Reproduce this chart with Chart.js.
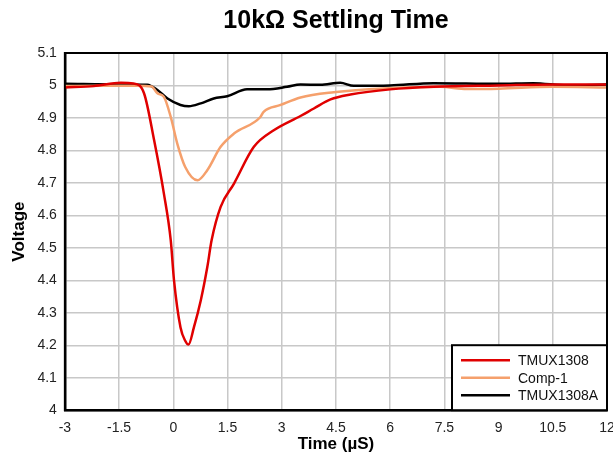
<!DOCTYPE html>
<html>
<head>
<meta charset="utf-8">
<script src="https://cdn.jsdelivr.net/npm/chart.js@4.4.0/dist/chart.umd.min.js"></script>
<style>
  html,body{margin:0;padding:0;background:#fff;}
  #wrap{width:613px;height:454px;}
</style>
</head>
<body>
<div id="wrap"><canvas id="chart"></canvas></div>
<script>
// ================== DATA ==================
const seriesNames = ["TMUX1308", "Comp-1", "TMUX1308A"];

const xTMUX1308 = [-3, -2.2, -1.45, -1.1, -0.81, -0.53, -0.26, -0.07, 0.02, 0.2, 0.33, 0.42, 0.57, 0.76, 0.94, 1.06, 1.31, 1.68, 2.23, 2.78, 3.52, 3.89, 4.35, 4.9, 6.0, 7.2, 9.0, 10.5, 12];
const yTMUX1308 = [4.994, 4.998, 5.008, 5.006, 4.976, 4.831, 4.667, 4.523, 4.40, 4.255, 4.214, 4.202, 4.255, 4.338, 4.44, 4.523, 4.626, 4.698, 4.811, 4.862, 4.906, 4.929, 4.957, 4.972, 4.988, 4.996, 5.0, 5.003, 5.003];

const xComp1 = [-3, -2, -1, -0.6, -0.44, -0.26, -0.07, 0.11, 0.33, 0.67, 0.94, 1.31, 1.68, 2.41, 2.5, 2.97, 3.52, 4.44, 5.82, 7.39, 8.12, 9.0, 10.5, 12];
const yComp1 = [4.998, 4.999, 4.999, 4.997, 4.976, 4.965, 4.903, 4.821, 4.749, 4.708, 4.739, 4.811, 4.852, 4.903, 4.919, 4.94, 4.963, 4.979, 4.991, 4.996, 4.989, 4.99, 4.996, 4.994];

const xTMUX1308A = [-3, -1.45, -0.72, -0.44, -0.16, 0.2, 0.43, 0.76, 1.12, 1.49, 2.04, 2.6, 3.15, 3.52, 4.07, 4.62, 4.99, 6.0, 7.2, 9.0, 9.96, 10.9, 12];
const yTMUX1308A = [5.005, 5.003, 5.002, 4.986, 4.96, 4.94, 4.936, 4.945, 4.96, 4.967, 4.988, 4.988, 4.996, 5.003, 5.002, 5.008, 4.999, 5.0, 5.007, 5.005, 5.007, 5.0, 5.003];

const colors = ["#e00000", "#f5a06c", "#000000"];

const xTicks = [-3, -1.5, 0, 1.5, 3, 4.5, 6, 7.5, 9, 10.5, 12];
const yTicks = [4, 4.1, 4.2, 4.3, 4.4, 4.5, 4.6, 4.7, 4.8, 4.9, 5, 5.1];

const FONT = "'Liberation Sans', Arial, sans-serif";

// ================== HELPERS ==================
function toPoints(xs, ys){
  return xs.map((x,i)=>({x:x, y:ys[i]}));
}

// border round the plot + legend box inside lower right corner
const framePlugin = {
  id: "frame",
  afterDatasetsDraw(chart){
    const {ctx, chartArea:a} = chart;
    ctx.save();
    ctx.strokeStyle = "#000";
    ctx.lineWidth = 2;
    ctx.strokeRect(a.left, a.top, a.right-a.left, a.bottom-a.top);

    // legend box
    const w = 155, h = 65;
    const bx = a.right - w, by = a.bottom - h;
    ctx.fillStyle = "#fff";
    ctx.fillRect(bx, by, w, h);
    ctx.strokeRect(bx, by, w, h);
    ctx.font = "14px " + FONT;
    ctx.textBaseline = "middle";
    chart.data.datasets.forEach((ds,i)=>{
      const yy = by + 15 + i*17.5;
      ctx.strokeStyle = ds.borderColor;
      ctx.lineWidth = 2.5;
      ctx.beginPath();
      ctx.moveTo(bx+9, yy);
      ctx.lineTo(bx+58, yy);
      ctx.stroke();
      ctx.fillStyle = "#111";
      ctx.fillText(ds.label, bx+66, yy+1);
    });
    ctx.restore();
  }
};

// ================== CHART ==================
const ctx = document.getElementById("chart").getContext("2d");
new Chart(ctx, {
  type: "line",
  data: {
    datasets: [
      {label: seriesNames[0], data: toPoints(xTMUX1308, yTMUX1308), borderColor: colors[0]},
      {label: seriesNames[1], data: toPoints(xComp1, yComp1), borderColor: colors[1]},
      {label: seriesNames[2], data: toPoints(xTMUX1308A, yTMUX1308A), borderColor: colors[2]}
    ].map(d=>Object.assign(d, {
      borderWidth: 2.5,
      pointRadius: 0,
      fill: false,
      cubicInterpolationMode: "monotone"
    }))
  },
  options: {
    responsive: true,
    maintainAspectRatio: false,
    animation: false,
    layout: {padding: {left: 0, right: 0, top: 2, bottom: 1}},
    plugins: {
      legend: {display: false},
      tooltip: {enabled: false},
      title: {
        display: true,
        text: "10kΩ Settling Time",
        fullSize: false,
        color: "#000",
        font: {family: FONT, size: 25, weight: "bold"},
        padding: {top: 4, bottom: 17}
      }
    },
    scales: {
      x: {
        type: "linear",
        min: -3, max: 12,
        afterBuildTicks: s => { s.ticks = xTicks.map(v=>({value:v})); },
        // let the last label run off the edge like the original
        afterFit: s => { s.paddingRight = 6; },
        ticks: {
          color: "#222",
          padding: 10,
          maxRotation: 0,
          font: {family: FONT, size: 14},
          callback: v => String(v)
        },
        grid: {color: "#c8c8c8", lineWidth: 1.5, drawTicks: false},
        border: {color: "#000", width: 2.5},
        title: {
          display: true,
          text: "Time (µS)",
          color: "#000",
          padding: {top: -11, bottom: 0},
          font: {family: FONT, size: 17, weight: "bold", lineHeight: 1}
        }
      },
      y: {
        min: 4, max: 5.1,
        afterBuildTicks: s => { s.ticks = yTicks.map(v=>({value:v})); },
        ticks: {
          color: "#222",
          padding: 8,
          font: {family: FONT, size: 14},
          callback: v => String(Math.round(v*10)/10)
        },
        grid: {color: "#c8c8c8", lineWidth: 1.5, drawTicks: false},
        border: {color: "#000", width: 2.5},
        title: {
          display: true,
          text: "Voltage",
          color: "#000",
          padding: {top: 9, bottom: 0},
          font: {family: FONT, size: 17, weight: "bold"}
        }
      }
    }
  },
  plugins: [framePlugin]
});
</script>
</body>
</html>
